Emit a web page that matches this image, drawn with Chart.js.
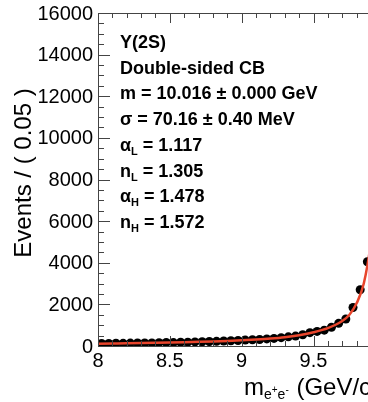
<!DOCTYPE html>
<html>
<head>
<meta charset="utf-8">
<script src="https://cdn.jsdelivr.net/npm/chart.js@4.4.1/dist/chart.umd.min.js"></script>
<style>
  html, body { margin: 0; padding: 0; background: #fff; overflow: hidden; }
  #wrap { width: 368px; height: 402px; overflow: hidden; }
</style>
</head>
<body>
<div id="wrap"><canvas id="massChart" width="560" height="402"></canvas></div>
<script>
// binned e+e- invariant mass, 0.05 GeV bins
const binCenters = [
  8.025, 8.075, 8.125, 8.175, 8.225, 8.275, 8.325, 8.375, 8.425, 8.475,
  8.525, 8.575, 8.625, 8.675, 8.725, 8.775, 8.825, 8.875, 8.925, 8.975,
  9.025, 9.075, 9.125, 9.175, 9.225, 9.275, 9.325, 9.375, 9.425, 9.475,
  9.525, 9.575, 9.625, 9.675, 9.725, 9.775, 9.825, 9.875
];
const eventCounts = [
  120, 125, 130, 128, 140, 145, 150, 148, 160, 170,
  165, 180, 185, 195, 205, 215, 225, 240, 250, 265,
  285, 300, 315, 340, 365, 400, 440, 475, 540, 640,
  700, 760, 900, 1090, 1300, 1850, 2700, 4050
];

// fitted double-sided Crystal Ball
const fitMass = [
  8.0, 8.1, 8.2, 8.3, 8.4, 8.5, 8.6, 8.7, 8.8, 8.9,
  9.0, 9.1, 9.2, 9.3, 9.4, 9.5, 9.6, 9.7, 9.75, 9.8,
  9.85, 9.9, 9.95
];
const fitCurve = [
  112, 122, 132, 143, 155, 168, 183, 200, 220, 245,
  275, 310, 355, 420, 520, 660, 860, 1200, 1500, 2050,
  3000, 5000, 8200
];

const xTickValues = [8, 8.5, 9, 9.5, 10, 10.5, 11];
const yTickValues = [0, 2000, 4000, 6000, 8000, 10000, 12000, 14000, 16000];

const fitLabels = [
  [["Υ(2S)", "n"]],
  [["Double-sided CB", "n"]],
  [["m = 10.016 ± 0.000 GeV", "n"]],
  [["σ = 70.16 ± 0.40 MeV", "n"]],
  [["α", "n"], ["L", "sub"], [" = 1.117", "n"]],
  [["n", "n"], ["L", "sub"], [" = 1.305", "n"]],
  [["α", "n"], ["H", "sub"], [" = 1.478", "n"]],
  [["n", "n"], ["H", "sub"], [" = 1.572", "n"]]
];

const FONT = "'Liberation Sans', Arial, Helvetica, sans-serif";

// ROOT-like frame: inward ticks on all sides, labels and titles
const rootFrame = {
  id: "rootFrame",
  afterDraw(chart) {
    const ctx = chart.ctx;
    const xs = chart.scales.x, ys = chart.scales.y;
    const a = chart.chartArea;
    ctx.save();
    ctx.strokeStyle = "#444";
    ctx.lineWidth = 1;
    ctx.strokeRect(a.left + 0.5, a.top + 0.5, a.right - a.left, a.bottom - a.top);

    ctx.beginPath();
    for (let i = 0; i <= 32; i++) {
      const v = i * 500;
      const len = v % 2000 === 0 ? 12 : 6;
      const py = Math.round(ys.getPixelForValue(v)) + 0.5;
      ctx.moveTo(a.left, py); ctx.lineTo(a.left + len, py);
      ctx.moveTo(a.right, py); ctx.lineTo(a.right - len, py);
    }
    for (let i = 0; i <= 30; i++) {
      const v = 8 + i * 0.1;
      const len = i % 5 === 0 ? 10 : 5;
      const px = Math.round(xs.getPixelForValue(v)) + 0.5;
      ctx.moveTo(px, a.bottom); ctx.lineTo(px, a.bottom - len);
      ctx.moveTo(px, a.top); ctx.lineTo(px, a.top + len);
    }
    ctx.stroke();

    ctx.fillStyle = "#000";
    ctx.font = "20px " + FONT;
    ctx.textAlign = "right";
    ctx.textBaseline = "middle";
    yTickValues.forEach(v => ctx.fillText(String(v), a.left - 5, ys.getPixelForValue(v) + 1));
    ctx.textAlign = "center";
    ctx.textBaseline = "top";
    xTickValues.forEach(v => ctx.fillText(String(v), xs.getPixelForValue(v), a.bottom + 5));

    // y title
    ctx.save();
    ctx.translate(31, 173);
    ctx.rotate(-Math.PI / 2);
    ctx.font = "24px " + FONT;
    ctx.textAlign = "center";
    ctx.textBaseline = "alphabetic";
    ctx.fillText("Events / ( 0.05 )", 0, 0);
    ctx.restore();

    // x title with sub/superscripts
    ctx.textAlign = "left";
    ctx.textBaseline = "alphabetic";
    let x = 244, base = 395;
    ctx.font = "24px " + FONT;
    ctx.fillText("m", x, base); x += ctx.measureText("m").width;
    ctx.font = "14px " + FONT;
    ctx.fillText("e", x, base + 4); x += ctx.measureText("e").width;
    ctx.font = "10px " + FONT;
    ctx.fillText("+", x, base - 2); x += ctx.measureText("+").width;
    ctx.font = "14px " + FONT;
    ctx.fillText("e", x, base + 4); x += ctx.measureText("e").width;
    ctx.font = "10px " + FONT;
    ctx.fillText("-", x, base - 2); x += ctx.measureText("-").width + 1;
    ctx.font = "24px " + FONT;
    ctx.fillText(" (GeV/c", x, base); x += ctx.measureText(" (GeV/c").width;
    ctx.font = "14px " + FONT;
    ctx.fillText("2", x, base - 10); x += ctx.measureText("2").width;
    ctx.font = "24px " + FONT;
    ctx.fillText(")", x, base);

    // fit parameter box
    fitLabels.forEach((segs, i) => {
      let tx = 120;
      const ty = 48 + i * 25.7;
      segs.forEach(([txt, kind]) => {
        if (kind === "sub") {
          ctx.font = "bold 11px " + FONT;
          ctx.fillText(txt, tx, ty + 4);
        } else {
          ctx.font = "bold 18px " + FONT;
          ctx.fillText(txt, tx, ty);
        }
        tx += ctx.measureText(txt).width;
      });
    });
    ctx.restore();
  }
};

new Chart(document.getElementById("massChart"), {
  type: "scatter",
  data: {
    datasets: [
      {
        data: fitMass.map((m, i) => ({ x: m, y: fitCurve[i] })),
        showLine: true,
        borderColor: "#e8452c",
        borderWidth: 2.5,
        pointRadius: 0,
        cubicInterpolationMode: "monotone",
        order: 0,
      },
      {
        data: binCenters.map((m, i) => ({ x: m, y: eventCounts[i] })),
        backgroundColor: "#000",
        borderColor: "#000",
        borderWidth: 0,
        pointRadius: 4.5,
        order: 1,
      },
    ],
  },
  options: {
    responsive: false,
    animation: false,
    layout: { padding: { left: 98, top: 13, right: 31, bottom: 56 } },
    scales: {
      x: { type: "linear", min: 8, max: 11, display: false },
      y: { type: "linear", min: 0, max: 16000, display: false },
    },
    plugins: {
      legend: { display: false },
      tooltip: { enabled: false },
    },
  },
  plugins: [rootFrame],
});
</script>
</body>
</html>
